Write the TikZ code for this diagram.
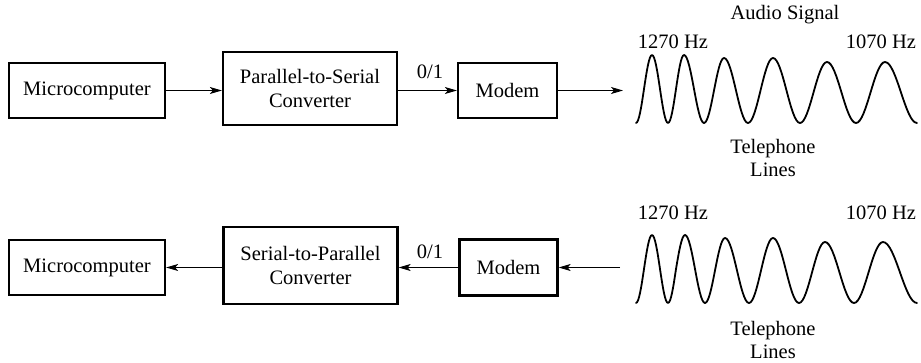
\documentclass[tikz,border=0pt]{standalone}
\usepackage{fontspec}
\setmainfont{Liberation Serif}
\usetikzlibrary{arrows.meta}
\begin{document}
\begin{tikzpicture}[x=1pt,y=-1pt,
  every node/.style={font=\fontsize{20.5}{23.5}\selectfont},
  box/.style={draw, line width=2.3pt, align=center, inner sep=0pt},
  conn/.style={line width=0.9pt, -{Stealth[length=12pt,width=7pt,inset=3pt]}},
  wave/.style={line width=1.8pt, line join=round, line cap=round},
  lbl/.style={inner sep=0pt, align=center}]
\useasboundingbox (0,0) rectangle (921,362);
% ---- top row ----
\node[box, minimum width=156pt, minimum height=55pt] (mc1) at (87,90.5) {Microcomputer};
\node[box, minimum width=174pt, minimum height=73pt] (ps) at (310,88.5) {Parallel-to-Serial\\Converter};
\node[box, minimum width=99pt, minimum height=55pt] (md1) at (507.5,90.5) {Modem};
\coordinate (w1) at (623,90.5);
\node[lbl] (b1) at (430,72) {0/1};
\draw[conn] (mc1.east) -- (mc1 -| ps.west);
\draw[conn] (md1 -| ps.east) -- (md1.west);
\draw[conn] (md1.east) -- (w1);
\node[lbl] (as) at (785,15) {Audio Signal};
\node[lbl] (f1a) at (673,42) {1270 Hz};
\node[lbl] (f2a) at (881,42) {1070 Hz};
\node[lbl] (tl1) at (773,158) {Telephone\\Lines};
\draw[wave] (636,123) cos (644,89) sin (652,55) cos (660,89) sin (668,123)
  cos (676,89) sin (684,55) cos (694,89) sin (704,123)
  cos (714,90.5) sin (724,58) cos (736,90.5) sin (748,123)
  cos (760.5,90.5) sin (773,58) cos (786.5,90.5) sin (800,123)
  cos (813.5,92.5) sin (827,62) cos (841.5,92.5) sin (856,123)
  cos (870.5,92.5) sin (885,62) cos (901,92.5) sin (917,123);
% ---- bottom row ----
\node[box, minimum width=156pt, minimum height=55pt] (mc2) at (87,267.5) {Microcomputer};
\node[box, minimum width=174pt, minimum height=77pt] (sp) at (310.5,265.5) {Serial-to-Parallel\\Converter};
\node[box, minimum width=98pt, minimum height=56pt] (md2) at (508.5,267.5) {Modem};
\coordinate (w2) at (620,267.5);
\node[lbl] (b2) at (430,252) {0/1};
\draw[conn] (w2) -- (md2.east);
\draw[conn] (md2.west) -- (md2 -| sp.east);
\draw[conn] (mc2 -| sp.west) -- (mc2.east);
\node[lbl] (f1b) at (673,213) {1270 Hz};
\node[lbl] (f2b) at (881,213) {1070 Hz};
\node[lbl] (tl2) at (773,340) {Telephone\\Lines};
\begin{scope}[shift={(0,180)}]
\draw[wave] (636,123) cos (644,89) sin (652,55) cos (660,89) sin (668,123)
  cos (676,89) sin (685,55) cos (695,89) sin (705,123)
  cos (715,90.5) sin (725,58) cos (737,90.5) sin (749,123)
  cos (761,90.5) sin (773,58) cos (786,90.5) sin (799,123)
  cos (812,92.5) sin (825,62) cos (839.5,92.5) sin (854,123)
  cos (868.5,92.5) sin (883,62) cos (900,92.5) sin (917,123);
\end{scope}
\end{tikzpicture}
\end{document}
